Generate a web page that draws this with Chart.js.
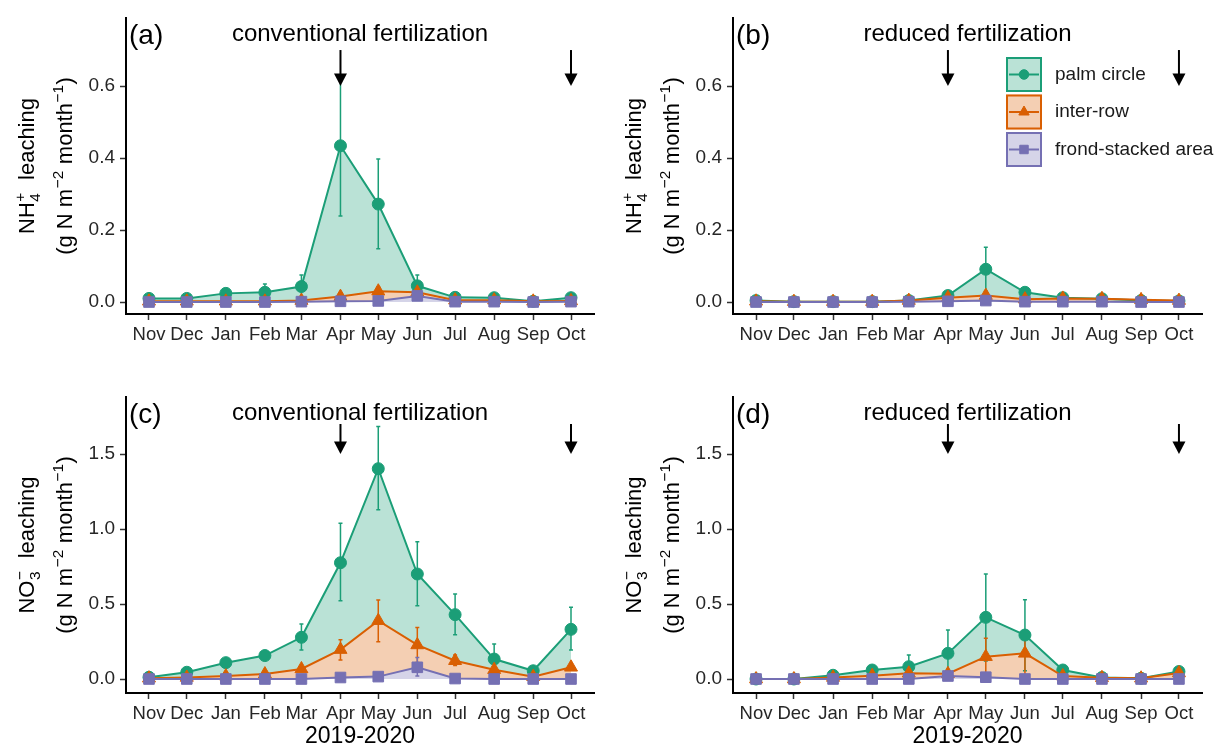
<!DOCTYPE html>
<html lang="en">
<head>
<meta charset="UTF-8" />
<title>Nitrogen leaching 2019-2020</title>
<script src="https://cdn.jsdelivr.net/npm/chart.js"></script>
<style>
  body { margin: 0; background: #fff; }
  #wrap { position: relative; width: 1215px; height: 748px; }
  #wrap canvas { position: absolute; }
</style>
</head>
<body>
<div id="wrap">
  <canvas id="panelA" width="607" height="374" style="left:0;top:0"></canvas>
  <canvas id="panelB" width="608" height="374" style="left:607px;top:0"></canvas>
  <canvas id="panelC" width="607" height="374" style="left:0;top:374px"></canvas>
  <canvas id="panelD" width="608" height="374" style="left:607px;top:374px"></canvas>
</div>

<script>
// ---- data ----
const months = ['Nov', 'Dec', 'Jan', 'Feb', 'Mar', 'Apr', 'May', 'Jun', 'Jul', 'Aug', 'Sep', 'Oct'];
const monthDates = ['2019-11-01', '2019-12-01', '2020-01-01', '2020-02-01', '2020-03-01', '2020-04-01',
                    '2020-05-01', '2020-06-01', '2020-07-01', '2020-08-01', '2020-09-01', '2020-10-01'];
const fertDates = ['2020-04-01', '2020-10-01'];
const seriesNames = ['palm circle', 'inter-row', 'frond-stacked area'];

const nhTicks = [0, 0.2, 0.4, 0.6];
const noTicks = [0, 0.5, 1.0, 1.5];
const nhArrow = [0.7, 0.6];
const noArrow = [1.7, 1.5];

// (a) NH4+ conventional
const nhConvPalm    = [0.010, 0.010, 0.024, 0.027, 0.043, 0.434, 0.272, 0.045, 0.013, 0.012, 0.002, 0.012];
const nhConvPalmLo  = [0.005, 0.005, 0.014, 0.008, 0.012, 0.239, 0.148, 0.016, 0.008, 0.008, 0.000, 0.007];
const nhConvPalmHi  = [0.015, 0.015, 0.036, 0.050, 0.075, 0.620, 0.397, 0.075, 0.018, 0.016, 0.004, 0.017];
const nhConvRow     = [0.002, 0.002, 0.002, 0.002, 0.004, 0.015, 0.030, 0.027, 0.005, 0.005, 0.002, 0.003];
const nhConvRowLo   = [0.000, 0.000, 0.000, 0.000, 0.001, 0.006, 0.018, 0.018, 0.002, 0.002, 0.000, 0.000];
const nhConvRowHi   = [0.005, 0.005, 0.005, 0.005, 0.008, 0.025, 0.042, 0.036, 0.008, 0.008, 0.005, 0.006];
const nhConvFrond   = [0.000, 0.000, 0.000, 0.000, 0.001, 0.002, 0.003, 0.017, 0.001, 0.001, 0.000, 0.001];
const nhConvFrondLo = [0.000, 0.000, 0.000, 0.000, 0.000, 0.000, 0.001, 0.008, 0.000, 0.000, 0.000, 0.000];
const nhConvFrondHi = [0.001, 0.001, 0.001, 0.001, 0.002, 0.004, 0.006, 0.026, 0.002, 0.002, 0.001, 0.002];

// (b) NH4+ reduced
const nhRedPalm    = [0.004, 0.001, 0.001, 0.001, 0.004, 0.018, 0.091, 0.027, 0.012, 0.009, 0.004, 0.003];
const nhRedPalmLo  = [0.001, 0.000, 0.000, 0.000, 0.001, 0.010, 0.030, 0.018, 0.008, 0.006, 0.002, 0.001];
const nhRedPalmHi  = [0.007, 0.002, 0.002, 0.002, 0.007, 0.026, 0.152, 0.036, 0.016, 0.012, 0.006, 0.005];
const nhRedRow     = [0.002, 0.001, 0.001, 0.001, 0.004, 0.012, 0.018, 0.008, 0.010, 0.009, 0.006, 0.004];
const nhRedRowLo   = [0.000, 0.000, 0.000, 0.000, 0.000, 0.006, 0.010, 0.004, 0.005, 0.004, 0.002, 0.000];
const nhRedRowHi   = [0.006, 0.005, 0.005, 0.005, 0.009, 0.018, 0.026, 0.012, 0.015, 0.014, 0.011, 0.009];
const nhRedFrond   = [0.000, 0.000, 0.000, 0.000, 0.001, 0.002, 0.004, 0.001, 0.001, 0.001, 0.000, 0.000];
const nhRedFrondLo = [0.000, 0.000, 0.000, 0.000, 0.000, 0.001, 0.002, 0.000, 0.000, 0.000, 0.000, 0.000];
const nhRedFrondHi = [0.001, 0.001, 0.001, 0.001, 0.002, 0.003, 0.006, 0.002, 0.002, 0.002, 0.001, 0.001];

// (c) NO3- conventional
const noConvPalm    = [0.012, 0.045, 0.109, 0.156, 0.278, 0.775, 1.402, 0.700, 0.429, 0.133, 0.055, 0.331];
const noConvPalmLo  = [0.000, 0.030, 0.090, 0.130, 0.193, 0.522, 1.129, 0.489, 0.295, 0.030, 0.040, 0.193];
const noConvPalmHi  = [0.025, 0.060, 0.130, 0.190, 0.367, 1.038, 1.684, 0.915, 0.567, 0.233, 0.070, 0.478];
const noConvRow     = [0.005, 0.010, 0.020, 0.033, 0.067, 0.196, 0.389, 0.227, 0.122, 0.062, 0.015, 0.078];
const noConvRowLo   = [0.000, 0.000, 0.010, 0.020, 0.050, 0.127, 0.249, 0.110, 0.090, 0.050, 0.010, 0.060];
const noConvRowHi   = [0.020, 0.020, 0.040, 0.050, 0.080, 0.262, 0.527, 0.344, 0.160, 0.075, 0.020, 0.095];
const noConvFrond   = [0.000, 0.000, 0.000, 0.000, 0.000, 0.010, 0.016, 0.078, 0.003, 0.000, 0.000, 0.000];
const noConvFrondLo = [0.000, 0.000, 0.000, 0.000, 0.000, 0.005, 0.010, 0.020, 0.000, 0.000, 0.000, 0.000];
const noConvFrondHi = [0.002, 0.002, 0.002, 0.002, 0.002, 0.015, 0.022, 0.144, 0.006, 0.002, 0.002, 0.002];

// (d) NO3- reduced
const noRedPalm    = [0.000, 0.000, 0.025, 0.060, 0.082, 0.171, 0.411, 0.293, 0.060, 0.010, 0.005, 0.050];
const noRedPalmLo  = [0.000, 0.000, 0.015, 0.040, 0.010, 0.040, 0.120, 0.055, 0.045, 0.005, 0.000, 0.030];
const noRedPalmHi  = [0.005, 0.005, 0.035, 0.080, 0.160, 0.327, 0.700, 0.529, 0.075, 0.015, 0.010, 0.070];
const noRedRow     = [0.000, 0.000, 0.010, 0.022, 0.038, 0.035, 0.149, 0.171, 0.020, 0.008, 0.005, 0.040];
const noRedRowLo   = [0.000, 0.000, 0.000, 0.010, 0.020, 0.020, 0.020, 0.020, 0.010, 0.000, 0.000, 0.015];
const noRedRowHi   = [0.020, 0.020, 0.020, 0.030, 0.050, 0.050, 0.271, 0.310, 0.030, 0.020, 0.020, 0.065];
const noRedFrond   = [0.000, 0.000, 0.000, 0.000, 0.000, 0.020, 0.012, 0.000, 0.000, 0.000, 0.000, 0.000];
const noRedFrondLo = [0.000, 0.000, 0.000, 0.000, 0.000, 0.012, 0.006, 0.000, 0.000, 0.000, 0.000, 0.000];
const noRedFrondHi = [0.002, 0.002, 0.002, 0.002, 0.002, 0.028, 0.018, 0.002, 0.002, 0.002, 0.002, 0.002];

// ---- helpers ----
const palmColor = '#1b9e77', rowColor = '#d95f02', frondColor = '#7570b3';
const palmFill = 'rgba(27,158,119,0.3)', rowFill = 'rgba(217,95,2,0.3)', frondFill = 'rgba(117,112,179,0.3)';
const FONT = '"Liberation Sans", Arial, Helvetica, sans-serif';
const textColor = '#262626';

Chart.defaults.font.family = FONT;
Chart.defaults.color = textColor;

const dayOf = d => (Date.parse(d) - Date.parse(monthDates[0])) / 86400000;
const days = monthDates.map(dayOf);
const xPad = 0.0545 * days[days.length - 1];

function points(values) {
  return values.map((v, i) => ({ x: days[i], y: v }));
}

function makeDatasets(palm, palmLo, palmHi, row, rowLo, rowHi, frond, frondLo, frondHi) {
  return [
    {
      label: seriesNames[0], data: points(palm), errLo: palmLo, errHi: palmHi,
      borderColor: palmColor, backgroundColor: palmFill, pointBackgroundColor: palmColor,
      pointStyle: 'circle', pointRadius: 6, order: 2,
      fill: { target: '+1', above: palmFill, below: rowFill }
    },
    {
      label: seriesNames[1], data: points(row), errLo: rowLo, errHi: rowHi,
      borderColor: rowColor, backgroundColor: rowFill, pointBackgroundColor: rowColor,
      pointStyle: 'triangle', pointRadius: 7.5, order: 1,
      fill: { target: '+1', above: rowFill, below: frondFill }
    },
    {
      label: seriesNames[2], data: points(frond), errLo: frondLo, errHi: frondHi,
      borderColor: frondColor, backgroundColor: frondFill, pointBackgroundColor: frondColor,
      pointStyle: 'rect', pointRadius: 7.5, order: 0,
      fill: { target: 'origin', above: frondFill, below: frondFill }
    }
  ];
}

// vertical error bars with small caps, drawn under lines and points
const errorBars = {
  id: 'errorBars',
  beforeDatasetsDraw(chart) {
    const { ctx, scales: { x, y } } = chart;
    const metas = chart.getSortedVisibleDatasetMetas().slice().reverse();
    metas.forEach(meta => {
      const ds = chart.data.datasets[meta.index];
      ctx.save();
      ctx.strokeStyle = ds.borderColor;
      ctx.lineWidth = 1.5;
      ds.data.forEach((p, i) => {
        const px = x.getPixelForValue(p.x);
        const lo = y.getPixelForValue(ds.errLo[i]);
        const hi = y.getPixelForValue(ds.errHi[i]);
        ctx.beginPath();
        ctx.moveTo(px, lo); ctx.lineTo(px, hi);
        ctx.moveTo(px - 2, lo); ctx.lineTo(px + 2, lo);
        ctx.moveTo(px - 2, hi); ctx.lineTo(px + 2, hi);
        ctx.stroke();
      });
      ctx.restore();
    });
  }
};

// text with super/subscript parts; part = string or {sup, sub}
function richWidth(ctx, parts, size) {
  let w = 0;
  parts.forEach(p => {
    if (typeof p === 'string') {
      ctx.font = size + 'px ' + FONT;
      w += ctx.measureText(p).width;
    } else {
      ctx.font = (size * 0.7) + 'px ' + FONT;
      w += Math.max(p.sup ? ctx.measureText(p.sup).width : 0, p.sub ? ctx.measureText(p.sub).width : 0) + 1;
    }
  });
  return w;
}

function drawRich(ctx, parts, size, x0) {
  let x = x0;
  parts.forEach(p => {
    if (typeof p === 'string') {
      ctx.font = size + 'px ' + FONT;
      ctx.fillText(p, x, 0);
      x += ctx.measureText(p).width;
    } else {
      ctx.font = (size * 0.7) + 'px ' + FONT;
      let w = 0;
      if (p.sup) { ctx.fillText(p.sup, x + 0.5, -size * 0.4); w = Math.max(w, ctx.measureText(p.sup).width); }
      if (p.sub) { ctx.fillText(p.sub, x + 0.5, size * 0.25); w = Math.max(w, ctx.measureText(p.sub).width); }
      x += w + 1;
    }
  });
}

// panel tag, heading, fertilisation arrows and the two-line y title
const panelText = {
  id: 'panelText',
  afterDraw(chart, args, opts) {
    const { ctx, chartArea: a, scales: { x, y } } = chart;
    ctx.save();
    ctx.fillStyle = '#000';
    ctx.strokeStyle = '#000';

    // arrows marking fertiliser application
    ctx.lineWidth = 2;
    fertDates.forEach(d => {
      const px = x.getPixelForValue(dayOf(d));
      const y0 = y.getPixelForValue(opts.arrow[0]);
      const y1 = y.getPixelForValue(opts.arrow[1]);
      ctx.beginPath(); ctx.moveTo(px, y0); ctx.lineTo(px, y1 - 10); ctx.stroke();
      ctx.beginPath();
      ctx.moveTo(px - 6.5, y1 - 12.5); ctx.lineTo(px + 6.5, y1 - 12.5); ctx.lineTo(px, y1);
      ctx.closePath(); ctx.fill();
    });

    ctx.textBaseline = 'alphabetic';
    ctx.textAlign = 'left';
    ctx.font = '28px ' + FONT;
    ctx.fillText(opts.tag, a.left + 3, a.top + 26);
    ctx.textAlign = 'center';
    ctx.font = '24px ' + FONT;
    ctx.fillText(opts.title, (a.left + a.right) / 2, a.top + 23);

    // rotated y title
    ctx.textAlign = 'left';
    const cy = (a.top + a.bottom) / 2;
    opts.yLines.forEach((parts, i) => {
      const w = richWidth(ctx, parts, 22);
      ctx.save();
      ctx.translate(a.left - (i === 0 ? 92 : 54), cy);
      ctx.rotate(-Math.PI / 2);
      drawRich(ctx, parts, 22, -w / 2);
      ctx.restore();
    });
    ctx.restore();
  }
};

// boxed key with line + marker for each site position
const keyBox = {
  id: 'keyBox',
  afterDraw(chart, args, opts) {
    if (!opts.show) return;
    const { ctx, chartArea: a } = chart;
    const left = a.left + 273;
    chart.data.datasets.forEach((ds, i) => {
      const top = a.top + 39 + i * 37.5;
      const cy = top + 17.5;
      ctx.save();
      ctx.fillStyle = ds.backgroundColor;
      ctx.fillRect(left, top, 36, 35);
      ctx.strokeStyle = ds.borderColor;
      ctx.lineWidth = 2;
      ctx.strokeRect(left + 1, top + 1, 34, 33);
      ctx.beginPath(); ctx.moveTo(left + 3, cy); ctx.lineTo(left + 33, cy); ctx.stroke();
      ctx.fillStyle = ds.borderColor;
      ctx.lineWidth = 1;
      Chart.helpers.drawPoint(ctx, { pointStyle: ds.pointStyle, radius: ds.pointRadius * 0.8, rotation: 0, borderWidth: 1 }, left + 18, cy);
      ctx.fillStyle = '#1a1a1a';
      ctx.font = '19px ' + FONT;
      ctx.textBaseline = 'middle';
      ctx.textAlign = 'left';
      ctx.fillText(seriesNames[i], left + 49, cy);
      ctx.restore();
    });
  }
};

function makePanel(id, cfg) {
  const axisGrid = { drawOnChartArea: false, drawTicks: true, tickLength: 6, tickColor: '#333', tickWidth: 1.5 };
  const axisBorder = { display: true, color: '#000', width: 2 };
  new Chart(document.getElementById(id), {
    type: 'line',
    data: { datasets: cfg.datasets },
    options: {
      responsive: false,
      animation: false,
      devicePixelRatio: 1,
      layout: { padding: { top: cfg.top, right: 13, left: 0, bottom: 0 } },
      elements: {
        line: { borderWidth: 2, tension: 0 },
        point: { borderWidth: 1, hoverRadius: 6 }
      },
      scales: {
        x: {
          type: 'linear',
          min: -xPad,
          max: days[days.length - 1] + xPad,
          afterBuildTicks: s => { s.ticks = days.map(v => ({ value: v })); },
          afterFit: s => { s.height = cfg.xHeight; },
          grid: axisGrid,
          border: axisBorder,
          ticks: {
            autoSkip: false, maxRotation: 0, padding: 4,
            color: textColor, font: { size: 18.5 },
            callback: (v, i) => months[i]
          },
          title: {
            display: !!cfg.xTitle, text: cfg.xTitle || '', color: '#000',
            font: { size: 23, lineHeight: 1 }, padding: { top: 0, bottom: 0 }
          }
        },
        y: {
          min: cfg.yMin,
          max: cfg.yMax,
          afterBuildTicks: s => { s.ticks = cfg.yTicks.map(v => ({ value: v })); },
          afterFit: s => { s.width = 126; },
          grid: axisGrid,
          border: axisBorder,
          ticks: { padding: 5, color: textColor, font: { size: 19 }, callback: v => v.toFixed(1) }
        }
      },
      plugins: {
        legend: { display: false },
        tooltip: { enabled: false },
        filler: { drawTime: 'beforeDatasetsDraw' },
        panelText: { tag: cfg.tag, title: cfg.title, arrow: cfg.arrow, yLines: cfg.yLines },
        keyBox: { show: !!cfg.key }
      }
    },
    plugins: [errorBars, panelText, keyBox]
  });
}

const nhTitle = [['NH', { sup: '+', sub: '4' }, '  leaching'], ['(g N m', { sup: '\u22122' }, ' month', { sup: '\u22121' }, ')']];
const noTitle = [['NO', { sup: '\u2212', sub: '3' }, '  leaching'], ['(g N m', { sup: '\u22122' }, ' month', { sup: '\u22121' }, ')']];

makePanel('panelA', {
  tag: '(a)', title: 'conventional fertilization', top: 18, xHeight: 60,
  yMin: -0.0333, yMax: 0.789, yTicks: nhTicks, arrow: nhArrow, yLines: nhTitle,
  datasets: makeDatasets(nhConvPalm, nhConvPalmLo, nhConvPalmHi, nhConvRow, nhConvRowLo, nhConvRowHi,
                         nhConvFrond, nhConvFrondLo, nhConvFrondHi)
});
makePanel('panelB', {
  tag: '(b)', title: 'reduced fertilization', top: 18, xHeight: 60, key: true,
  yMin: -0.0333, yMax: 0.789, yTicks: nhTicks, arrow: nhArrow, yLines: nhTitle,
  datasets: makeDatasets(nhRedPalm, nhRedPalmLo, nhRedPalmHi, nhRedRow, nhRedRowLo, nhRedRowHi,
                         nhRedFrond, nhRedFrondLo, nhRedFrondHi)
});
makePanel('panelC', {
  tag: '(c)', title: 'conventional fertilization', top: 23, xHeight: 55, xTitle: '2019-2020',
  yMin: -0.0933, yMax: 1.88, yTicks: noTicks, arrow: noArrow, yLines: noTitle,
  datasets: makeDatasets(noConvPalm, noConvPalmLo, noConvPalmHi, noConvRow, noConvRowLo, noConvRowHi,
                         noConvFrond, noConvFrondLo, noConvFrondHi)
});
makePanel('panelD', {
  tag: '(d)', title: 'reduced fertilization', top: 23, xHeight: 55, xTitle: '2019-2020',
  yMin: -0.0933, yMax: 1.88, yTicks: noTicks, arrow: noArrow, yLines: noTitle,
  datasets: makeDatasets(noRedPalm, noRedPalmLo, noRedPalmHi, noRedRow, noRedRowLo, noRedRowHi,
                         noRedFrond, noRedFrondLo, noRedFrondHi)
});
</script>
</body>
</html>
